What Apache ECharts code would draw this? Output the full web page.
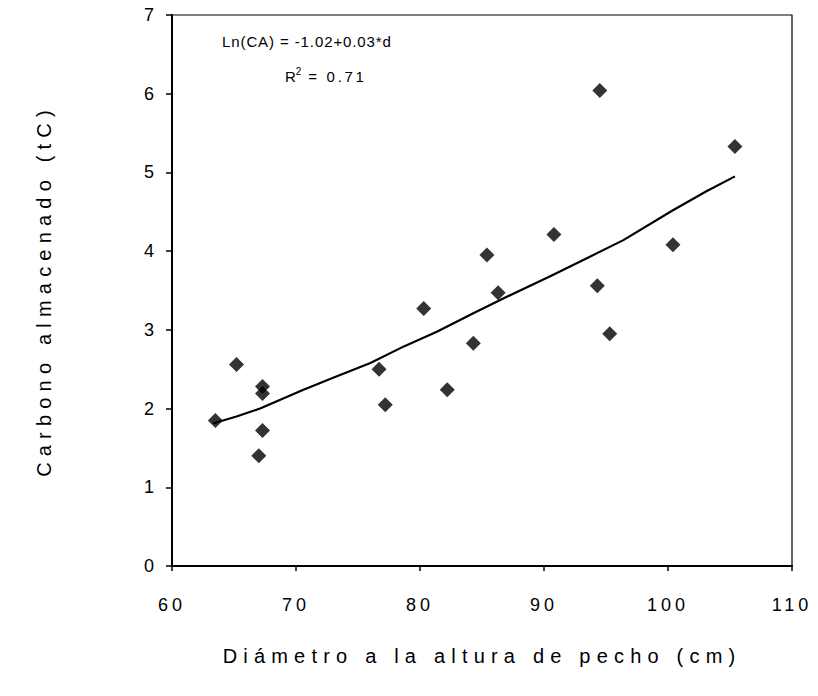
<!DOCTYPE html>
<html>
<head>
<meta charset="utf-8">
<script src="https://cdn.jsdelivr.net/npm/echarts@6/dist/echarts.min.js"></script>
<style>html,body{margin:0;padding:0;background:#fff}#c{width:818px;height:696px}</style>
</head>
<body>
<div id="c"></div>
<script>
var diameter = [63.5, 65.2, 67.3, 67.3, 67.3, 67.0, 76.7, 77.2, 80.3, 82.2, 84.3, 85.4, 86.3, 90.8, 94.5, 94.3, 95.3, 100.4, 105.4];
var carbon   = [1.85, 2.56, 2.28, 2.19, 1.72, 1.40, 2.50, 2.05, 3.27, 2.24, 2.83, 3.95, 3.47, 4.21, 6.04, 3.56, 2.95, 4.08, 5.33];
var fitX = [63.3, 65.2, 67.1, 70.6, 73.3, 76.0, 78.7, 81.4, 84.3, 87.0, 90.5, 93.7, 96.4, 100.4, 103.1, 105.4];
var fitY = [1.81, 1.90, 2.00, 2.24, 2.41, 2.58, 2.79, 2.98, 3.21, 3.42, 3.68, 3.93, 4.14, 4.52, 4.76, 4.95];
var xTicks = [60, 70, 80, 90, 100, 110];
var yTicks = [0, 1, 2, 3, 4, 5, 6, 7];
var eqText = 'Ln(CA) = -1.02+0.03*d';
var r2Text = '0.71';
var xName = 'Diámetro a la altura de pecho (cm)';
var yName = 'Carbono almacenado (tC)';

var font = 'Liberation Sans, Arial, sans-serif';
var chart = echarts.init(document.getElementById('c'), null, {renderer: 'svg'});
chart.setOption({
  animation: false,
  backgroundColor: '#fff',
  grid: {left: 172, right: 26, top: 15, bottom: 130, show: true, borderColor: '#000', borderWidth: 1.2, backgroundColor: 'transparent'},
  xAxis: {
    type: 'value', min: xTicks[0], max: xTicks[xTicks.length - 1], interval: 10,
    name: xName, nameLocation: 'middle', nameGap: 80,
    nameTextStyle: {fontFamily: font, fontSize: 20, color: '#000'},
    axisLine: {show: true, onZero: false, lineStyle: {color: '#000', width: 2.2}},
    axisTick: {show: true, length: 5, inside: false, lineStyle: {color: '#000', width: 1.5}},
    axisLabel: {fontFamily: font, fontSize: 18, color: '#000', margin: 30},
    splitLine: {show: false}
  },
  yAxis: {
    type: 'value', min: yTicks[0], max: yTicks[yTicks.length - 1], interval: 1,
    name: yName, nameLocation: 'middle', nameGap: 118, nameRotate: 90,
    nameTextStyle: {fontFamily: font, fontSize: 20, color: '#000'},
    axisLine: {show: true, onZero: false, lineStyle: {color: '#000', width: 2}},
    axisTick: {show: true, length: 6, inside: false, lineStyle: {color: '#000', width: 1.5}},
    axisLabel: {fontFamily: font, fontSize: 18, color: '#000', margin: 14},
    splitLine: {show: false}
  },
  graphic: [
    {type: 'text', left: 222, top: 34, style: {text: eqText, font: '15px ' + font, fill: '#000'}},
    {type: 'text', left: 285, top: 66, style: {
      text: '{a|R}{s|2}{a| = ' + r2Text + '}',
      rich: {a: {fontFamily: font, fontSize: 15, fill: '#000', verticalAlign: 'bottom'}, s: {fontFamily: font, fontSize: 10, fill: '#000', verticalAlign: 'top', padding: [0, 0, 8, 0]}}
    }}
  ],
  series: [
    {type: 'line', data: fitX.map(function (x, i) { return [x, fitY[i]]; }), showSymbol: false, smooth: false,
     lineStyle: {color: '#000', width: 2.2}, z: 2},
    {type: 'scatter', data: diameter.map(function (x, i) { return [x, carbon[i]]; }), symbol: 'diamond', symbolSize: 15,
     itemStyle: {color: '#000'}, z: 3}
  ]
});

function spaceText() {
  var texts = document.querySelectorAll('#c svg text');
  for (var i = 0; i < texts.length; i++) {
    var el = texts[i];
    var t = el.textContent || '';
    var fs = parseFloat(window.getComputedStyle(el).fontSize) || 12;
    var sp;
    if (t === eqText) sp = 0.9;
    else if (t.indexOf(r2Text) >= 0) sp = 2.7;
    else sp = fs >= 19.5 ? 6.2 : (fs >= 17.5 ? 4 : (fs >= 14.5 ? 1.5 : 0.5));
    el.style.letterSpacing = sp + 'px';
  }
}
chart.on('finished', spaceText);
setTimeout(spaceText, 0);
setTimeout(spaceText, 50);
</script>
</body>
</html>
